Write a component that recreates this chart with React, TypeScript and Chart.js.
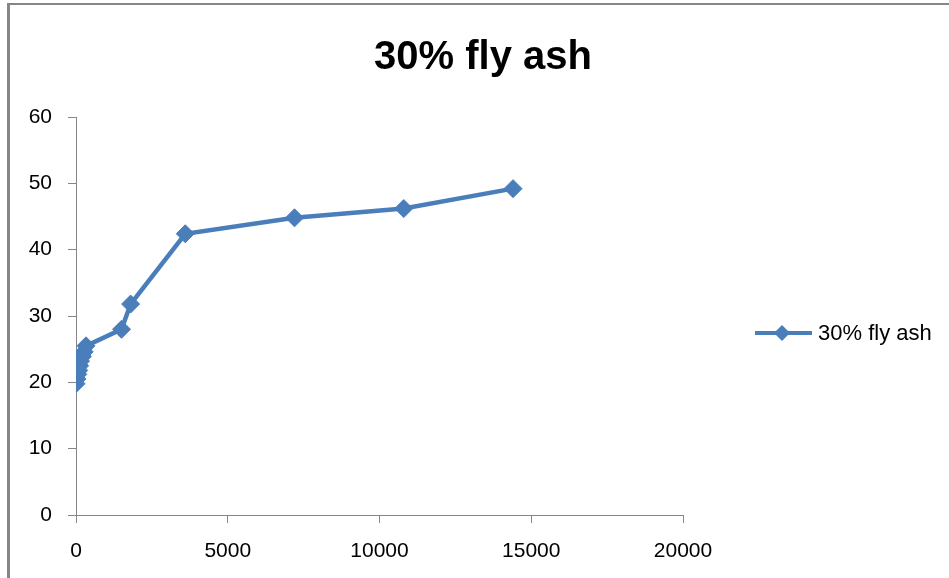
import React, { useEffect, useRef } from "react";
import { Chart, registerables } from "chart.js";

Chart.register(...registerables);

// Elapsed time and measured values for the 30% fly ash mix
const timeValues = [0, 30, 60, 90, 120, 150, 210, 270, 330, 1500, 1800, 3600, 7200, 10800, 14400];
const seriesValues = [19.8, 20.5, 21.2, 21.8, 22.5, 23.2, 23.9, 24.6, 25.5, 28.0, 31.8, 42.4, 44.8, 46.2, 49.2];
const seriesLabel = "30% fly ash";
const chartTitle = "30% fly ash";

const BLUE = "#4A7EBB";
const AXIS_GREY = "#868686";
const FONT = "'Liberation Sans', Arial, sans-serif";

// Outer frame of the chart object, plus the centred title
const framePlugin = {
  id: "frame",
  beforeDraw(chart: any) {
    const ctx = chart.ctx;
    ctx.save();
    ctx.fillStyle = "#ffffff";
    ctx.fillRect(0, 0, chart.width, chart.height);
    ctx.strokeStyle = AXIS_GREY;
    ctx.lineWidth = 2;
    ctx.beginPath();
    ctx.moveTo(7, 4);
    ctx.lineTo(chart.width, 4);
    ctx.stroke();
    ctx.lineWidth = 3;
    ctx.beginPath();
    ctx.moveTo(8.5, 4);
    ctx.lineTo(8.5, chart.height);
    ctx.stroke();

    ctx.fillStyle = "#000000";
    ctx.font = `bold 40px ${FONT}`;
    ctx.textAlign = "center";
    ctx.textBaseline = "middle";
    ctx.fillText(chartTitle, 483, 58);
    ctx.restore();
  },
};

// Legend entry: line segment with a diamond marker, then the series name
const lineLegendPlugin = {
  id: "lineLegend",
  afterDraw(chart: any) {
    const ctx = chart.ctx;
    const ds = chart.data.datasets[0];
    const y = 333;
    ctx.save();
    ctx.strokeStyle = ds.borderColor;
    ctx.lineWidth = 4;
    ctx.beginPath();
    ctx.moveTo(755, y);
    ctx.lineTo(812, y);
    ctx.stroke();
    ctx.fillStyle = ds.pointBackgroundColor;
    const r = 8;
    ctx.beginPath();
    ctx.moveTo(782, y - r);
    ctx.lineTo(782 + r, y);
    ctx.lineTo(782, y + r);
    ctx.lineTo(782 - r, y);
    ctx.closePath();
    ctx.fill();
    ctx.fillStyle = "#000000";
    ctx.font = `22px ${FONT}`;
    ctx.textBaseline = "middle";
    ctx.textAlign = "left";
    ctx.fillText(ds.label, 818, y + 1);
    ctx.restore();
  },
};

const plainTick = (value: any) => String(value);

export default function App() {
  const canvasRef = useRef<HTMLCanvasElement | null>(null);

  useEffect(() => {
    if (!canvasRef.current) return;
    const chart = new Chart(canvasRef.current, {
      type: "scatter",
      data: {
        datasets: [
          {
            label: seriesLabel,
            data: timeValues.map((t, i) => ({ x: t, y: seriesValues[i] })),
            showLine: true,
            borderColor: BLUE,
            backgroundColor: BLUE,
            pointBackgroundColor: BLUE,
            pointBorderColor: BLUE,
            borderWidth: 4.5,
            pointStyle: "rectRot",
            pointRadius: 9,
            pointBorderWidth: 1,
          },
        ],
      },
      options: {
        animation: false,
        responsive: false,
        maintainAspectRatio: false,
        layout: { padding: { left: 0, right: 266, top: 117, bottom: 0 } },
        plugins: {
          legend: { display: false },
          tooltip: { enabled: false },
          title: { display: false },
        },
        scales: {
          x: {
            type: "linear",
            min: 0,
            max: 20000,
            ticks: {
              stepSize: 5000,
              callback: plainTick,
              color: "#000000",
              font: { family: FONT, size: 21 },
              padding: 16,
              maxRotation: 0,
            },
            grid: {
              display: true,
              drawOnChartArea: false,
              drawTicks: true,
              tickLength: 8,
              color: AXIS_GREY,
            },
            border: { display: true, color: AXIS_GREY, width: 1 },
            afterFit(scale: any) {
              scale.height = 63;
            },
          },
          y: {
            type: "linear",
            min: 0,
            max: 60,
            ticks: {
              stepSize: 10,
              callback: plainTick,
              color: "#000000",
              font: { family: FONT, size: 21 },
              padding: 16,
            },
            grid: {
              display: true,
              drawOnChartArea: false,
              drawTicks: true,
              tickLength: 8,
              color: AXIS_GREY,
            },
            border: { display: true, color: AXIS_GREY, width: 1 },
            afterFit(scale: any) {
              scale.width = 76;
            },
          },
        },
      },
      plugins: [framePlugin, lineLegendPlugin],
    });
    return () => chart.destroy();
  }, []);

  return (
    <div style={{ position: "fixed", left: 0, top: 0, width: 949, height: 578, background: "#fff" }}>
      <canvas ref={canvasRef} width={949} height={578} style={{ display: "block" }} />
    </div>
  );
}
